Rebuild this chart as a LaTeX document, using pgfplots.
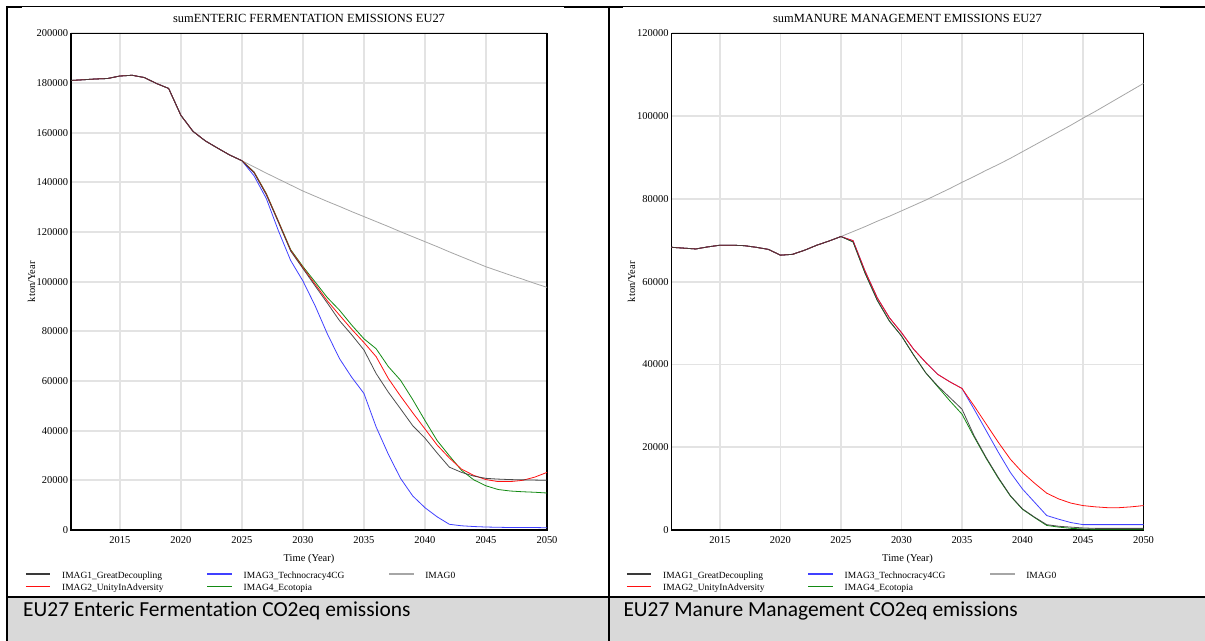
\documentclass[border=0pt]{standalone}
\usepackage{fontspec}
\setmainfont{Liberation Serif}
\newfontfamily\capfont[Ligatures=NoCommon]{Carlito}
\usepackage{pgfplots}
\usepackage{pgfplotstable}
\pgfplotsset{compat=1.18}
\definecolor{cI}{HTML}{3A3A3A}
\definecolor{cII}{HTML}{FF1010}
\definecolor{cIII}{HTML}{4040FF}
\definecolor{cIV}{HTML}{138A13}
\definecolor{cO}{HTML}{A6A6A6}
\definecolor{gridc}{HTML}{E3E3E3}
\definecolor{capgray}{HTML}{D9D9D9}

% year IMAG1 IMAG2 IMAG3 IMAG4 IMAG0
\pgfplotstableread{
year i1 i2 i3 i4 i0
2011 181000 181000 181000 181000 181000
2012 181300 181300 181300 181300 181300
2013 181600 181600 181600 181600 181600
2014 181800 181800 181800 181800 181800
2015 182800 182800 182800 182800 182800
2016 183100 183100 183100 183100 183100
2017 182200 182200 182200 182200 182200
2018 179800 179800 179800 179800 179800
2019 177800 177800 177800 177800 177800
2020 167000 167000 167000 167000 167000
2021 160500 160500 160500 160500 160500
2022 156700 156700 156700 156700 156700
2023 153800 153800 153800 153800 153800
2024 151000 151000 151000 151000 151000
2025 148700 148700 148700 148700 148700
2026 143800 144000 142600 144200 146200
2027 135000 135300 133500 135500 143700
2028 123800 124100 120400 124300 141300
2029 112300 112600 108500 112900 138900
2030 105300 105700 100300 106100 136500
2031 98300 99000 90300 99900 134400
2032 91400 92300 79000 93600 132300
2033 84300 86500 69000 88500 130300
2034 78600 80800 61500 82500 128200
2035 72500 75500 55000 77000 126200
2036 63000 69800 41500 73000 124200
2037 55500 61000 30500 65800 122200
2038 48800 53900 20800 60300 120100
2039 42000 47200 13700 52500 118100
2040 37000 40700 9000 44100 116100
2041 31000 34200 5300 36000 114100
2042 25300 29000 2300 29900 112000
2043 23200 24500 1700 24000 110000
2044 21700 22000 1400 20200 108000
2045 20800 20300 1200 17800 106000
2046 20500 19500 1100 16300 104300
2047 20300 19500 1000 15700 102600
2048 20200 20000 1000 15400 101000
2049 20100 21300 1000 15200 99300
2050 20000 23200 900 14900 97700
}\enteric

\pgfplotstableread{
year i1 i2 i3 i4 i0
2011 68300 68300 68300 68300 68300
2012 68100 68100 68100 68100 68100
2013 67900 67900 67900 67900 67900
2014 68400 68400 68400 68400 68400
2015 68800 68800 68800 68800 68800
2016 68800 68800 68800 68800 68800
2017 68700 68700 68700 68700 68700
2018 68300 68300 68300 68300 68300
2019 67800 67800 67800 67800 67800
2020 66400 66400 66400 66400 66400
2021 66600 66600 66600 66600 66600
2022 67600 67600 67600 67600 67600
2023 68800 68800 68800 68800 68800
2024 69800 69800 69800 69800 69800
2025 70900 70900 70900 70900 70900
2026 69600 69900 69900 69600 72100
2027 62000 62500 62500 62000 73300
2028 55500 56100 56100 55500 74600
2029 50500 51300 51300 50500 75800
2030 46900 47700 47700 46900 77100
2031 42300 43700 43700 42300 78400
2032 38000 40500 40500 38000 79700
2033 34800 37600 37600 34600 81100
2034 32000 35800 35800 31200 82500
2035 29200 34200 34200 28000 84000
2036 22800 30000 29200 22500 85400
2037 17500 25600 24000 17300 86900
2038 12700 21200 18800 12500 88300
2039 8300 17100 13900 8200 89800
2040 5100 13900 9900 5000 91400
2041 3100 11300 6700 3000 93000
2042 1300 8900 3500 1100 94600
2043 900 7500 2600 700 96200
2044 700 6500 1800 400 97800
2045 500 5900 1300 250 99500
2046 400 5600 1300 200 101100
2047 400 5400 1300 200 102800
2048 400 5400 1300 200 104500
2049 400 5600 1300 200 106200
2050 400 5900 1300 200 107900
}\manure

\pgfplotsset{
  vensim/.style={
    scale only axis, height=496.7bp,
    xmin=2011, xmax=2050, ymin=0,
    xtick={2015,2020,...,2050},
    grid=major, major grid style={line width=1.8bp, draw=gridc},
    major tick length=0pt, tick style={draw=none},
    axis line style={line width=1.4bp, black},
    /pgf/number format/assume math mode=true,
    /pgf/number format/set thousands separator={},
    scaled y ticks=false,
    yticklabel style={/pgf/number format/fixed, xshift=-2.8bp},
    xticklabel style={yshift=-6.5bp},
    tick label style={font=\fontsize{10.5}{12}\selectfont, inner sep=0pt},
    every axis title/.style={at={(axis description cs:0.5,1)}, anchor=base, yshift=10.6bp, inner sep=0pt, font=\fontsize{12.5}{14}\selectfont},
    xlabel={Time (Year)},
    every axis x label/.style={at={(axis description cs:0.5,0)}, anchor=base, yshift=-31bp, inner sep=0pt, font=\fontsize{10.5}{12}\selectfont},
    ylabel={kton/Year},
    ylabel style={anchor=center, inner sep=0pt, font=\fontsize{10.5}{12}\selectfont},
    legend columns=3,
    legend cell align=left,
    legend image code/.code={\draw[##1, line width=1.6bp] (0bp,3.3bp) -- (24.5bp,3.3bp);},
    legend style={anchor=north west, draw=none, fill=none, inner sep=0pt, outer sep=0pt,
      row sep=0pt, column sep=0pt, font=\fontsize{9.5}{11}\selectfont,
      nodes={inner sep=0pt, text height=7.25bp, text depth=5.25bp},
      /tikz/every odd column/.append style={column sep=11bp}},
    every axis plot/.append style={line width=0.8bp, no markers, sharp plot},
  }
}
\newcommand{\lgd}[1]{\makebox[144.5bp][l]{#1}}

\begin{document}
\begin{tikzpicture}
\begin{scope}[x=1bp,y=-1bp]
\useasboundingbox (0,0) rectangle (1205,641);
\fill[capgray] (7.3,596.7) rectangle (1205,641);
\draw[line width=0.8bp] (7.3,6.7) -- (1205,6.7);
\draw[line width=1.8bp] (6.4,6.7) -- (22,6.7);
\draw[line width=1.8bp] (564,6.7) -- (623,6.7);
\draw[line width=1.8bp] (1160,6.7) -- (1205,6.7);
\draw[line width=1.8bp] (7.3,5.8) -- (7.3,641);
\draw[line width=1.8bp] (608.7,5.8) -- (608.7,641);
\draw[line width=1.8bp] (6.4,596.7) -- (1205,596.7);
\node[anchor=base west, inner sep=0pt, font=\capfont\fontsize{21.5}{24}\selectfont] at (23,616.7) {EU27 Enteric Fermentation CO2eq emissions};
\node[anchor=base west, inner sep=0pt, font=\capfont\fontsize{21.5}{24}\selectfont] at (623.3,616.7) {EU27 Manure Management CO2eq emissions};
\end{scope}

\begin{axis}[vensim, at={(71bp,-530bp)}, anchor=south west, width=476bp,
  ymax=200000, ytick={0,20000,...,200000},
  title={sumENTERIC FERMENTATION EMISSIONS EU27},
  ylabel style={at={(axis description cs:-0.0828,0.5)}},
  legend style={at={(axis description cs:-0.0966,-0.0825)}}]
\addlegendimage{cI}\addlegendentry{\lgd{IMAG1\_GreatDecoupling}}
\addlegendimage{cIII}\addlegendentry{\lgd{IMAG3\_Technocracy4CG}}
\addlegendimage{cO}\addlegendentry{\lgd{IMAG0}}
\addlegendimage{cII}\addlegendentry{\lgd{IMAG2\_UnityInAdversity}}
\addlegendimage{cIV}\addlegendentry{\lgd{IMAG4\_Ecotopia}}
\addplot[forget plot, cO] table[x=year, y=i0] {\enteric};
\addplot[forget plot, cIV] table[x=year, y=i4] {\enteric};
\addplot[forget plot, cIII] table[x=year, y=i3] {\enteric};
\addplot[forget plot, cII] table[x=year, y=i2] {\enteric};
\addplot[forget plot, cI, opacity=0.9] table[x=year, y=i1] {\enteric};
\end{axis}

\begin{axis}[vensim, at={(671.5bp,-530bp)}, anchor=south west, width=472bp,
  ymax=120000, ytick={0,20000,...,120000},
  title={sumMANURE MANAGEMENT EMISSIONS EU27},
  ylabel style={at={(axis description cs:-0.0845,0.5)}},
  legend style={at={(axis description cs:-0.0964,-0.0825)}}]
\addlegendimage{cI}\addlegendentry{\lgd{IMAG1\_GreatDecoupling}}
\addlegendimage{cIII}\addlegendentry{\lgd{IMAG3\_Technocracy4CG}}
\addlegendimage{cO}\addlegendentry{\lgd{IMAG0}}
\addlegendimage{cII}\addlegendentry{\lgd{IMAG2\_UnityInAdversity}}
\addlegendimage{cIV}\addlegendentry{\lgd{IMAG4\_Ecotopia}}
\addplot[forget plot, cO] table[x=year, y=i0] {\manure};
\addplot[forget plot, cIV] table[x=year, y=i4] {\manure};
\addplot[forget plot, cIII] table[x=year, y=i3] {\manure};
\addplot[forget plot, cII] table[x=year, y=i2] {\manure};
\addplot[forget plot, cI, opacity=0.9] table[x=year, y=i1] {\manure};
\end{axis}
\end{tikzpicture}
\end{document}
